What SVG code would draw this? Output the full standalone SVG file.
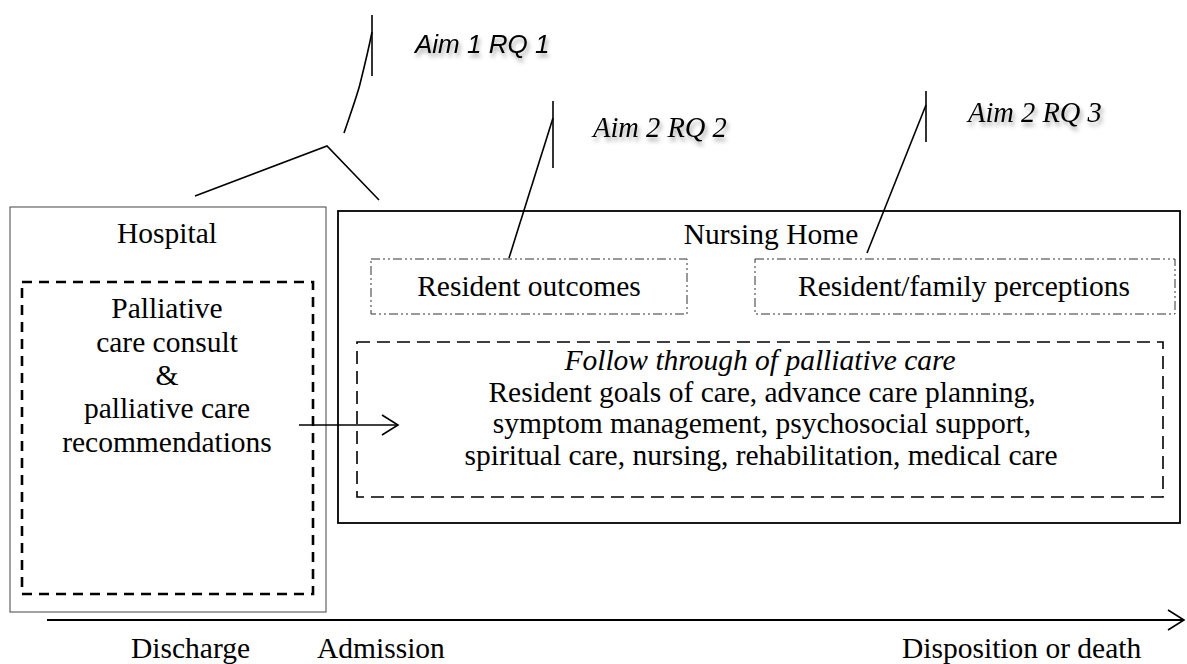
<svg xmlns="http://www.w3.org/2000/svg" width="1187" height="664" viewBox="0 0 1187 664">
  <defs>
    <filter id="softShadow" x="-20%" y="-40%" width="140%" height="200%">
      <feDropShadow dx="2" dy="4" stdDeviation="2.2" flood-color="#000" flood-opacity="0.35"/>
    </filter>
    <marker id="openArrow" markerWidth="20" markerHeight="22" refX="17" refY="11" orient="auto" markerUnits="userSpaceOnUse">
      <path d="M1,1 L17,11 L1,21" fill="none" stroke="#000" stroke-width="1.6"/>
    </marker>
  </defs>
  <style>
    text { fill: #000; }
    .serif { font-family: 'Liberation Serif', 'Times New Roman', serif; }
    .body { font-size: 29.5px; text-anchor: middle; }
    .aimSans { font-family: 'Liberation Sans', Arial, sans-serif; font-style: italic; font-size: 26px; }
    .aimSerif { font-family: 'Liberation Serif', 'Times New Roman', serif; font-style: italic; font-size: 28.5px; }
    .lead { fill: none; stroke: #000; stroke-width: 1.6; }
    .thinBox { fill: none; stroke: #444; stroke-width: 1; }
    .heavyBox { fill: none; stroke: #000; stroke-width: 1.8; }
    .dashBold { fill: none; stroke: #000; stroke-width: 2.6; stroke-dasharray: 10 7; }
    .dashThin { fill: none; stroke: #000; stroke-width: 1.6; stroke-dasharray: 13 7; }
    .dashDot { fill: none; stroke: #333; stroke-width: 1; stroke-dasharray: 9 3 2 3 2 3; }
  </style>

  <rect width="1187" height="664" fill="#fff"/>

  <!-- Hospital -->
  <g id="hospital">
    <rect class="thinBox" x="10" y="207" width="316" height="405"/>
    <text class="serif body" x="167" y="243">Hospital</text>
  </g>

  <g id="consult">
    <rect class="dashBold" x="22" y="282" width="291" height="312"/>
    <text class="serif body" x="167" y="318">Palliative</text>
    <text class="serif body" x="167" y="352">care consult</text>
    <text class="serif body" x="167" y="385">&amp;</text>
    <text class="serif body" x="167" y="418">palliative care</text>
    <text class="serif body" x="167" y="452">recommendations</text>
  </g>

  <!-- Nursing Home -->
  <g id="nursing-home">
    <rect class="heavyBox" x="338" y="211" width="842" height="312"/>
    <text class="serif body" x="771" y="244">Nursing Home</text>
  </g>

  <g id="resident-outcomes">
    <rect class="dashDot" x="371" y="259" width="316" height="55"/>
    <text class="serif body" x="529" y="296">Resident outcomes</text>
  </g>

  <g id="family-perceptions">
    <rect class="dashDot" x="755" y="259" width="420" height="55"/>
    <text class="serif body" x="964" y="296">Resident/family perceptions</text>
  </g>

  <g id="follow-through">
    <rect class="dashThin" x="357" y="342" width="806" height="155"/>
    <text class="serif body" x="760" y="370" font-style="italic">Follow through of palliative care</text>
    <text class="serif body" x="762" y="402">Resident goals of care, advance care planning,</text>
    <text class="serif body" x="762" y="433">symptom management, psychosocial support,</text>
    <text class="serif body" x="761" y="465">spiritual care, nursing, rehabilitation, medical care</text>
  </g>

  <!-- Aim labels -->
  <g id="aim1">
    <text class="aimSans" x="415" y="53" filter="url(#softShadow)">Aim 1 RQ 1</text>
  </g>
  <g id="aim2-rq2">
    <text class="aimSerif" x="593" y="137" filter="url(#softShadow)">Aim 2 RQ 2</text>
  </g>
  <g id="aim2-rq3">
    <text class="aimSerif" x="968" y="122" filter="url(#softShadow)">Aim 2 RQ 3</text>
  </g>

  <!-- Timeline -->
  <g id="timeline">
    <text class="serif" font-size="29.5" x="131" y="658">Discharge</text>
    <text class="serif" font-size="29.5" x="317" y="658">Admission</text>
    <text class="serif" font-size="29.5" x="902" y="658">Disposition or death</text>
  </g>

  <!-- Connectors -->
  <g id="connectors">
    <!-- Aim 1 callout: tick, leader and bracket over hospital/nursing home -->
    <line class="lead" x1="372" y1="15" x2="372" y2="76"/>
    <path class="lead" d="M372,32 C368,52 363,72 360,84 S349,118 344,133"/>
    <polyline class="lead" points="195,196 327,146 379,200"/>
    <!-- Aim 2 RQ 2 callout -->
    <line class="lead" x1="553" y1="101" x2="553" y2="168"/>
    <line class="lead" x1="553" y1="118" x2="509" y2="258"/>
    <!-- Aim 2 RQ 3 callout -->
    <line class="lead" x1="926" y1="91" x2="926" y2="142"/>
    <line class="lead" x1="926" y1="105" x2="867" y2="253"/>
    <!-- hospital to nursing home -->
    <line x1="299" y1="425" x2="398" y2="425" stroke="#000" stroke-width="1.6" marker-end="url(#openArrow)"/>
    <!-- time axis -->
    <line x1="47" y1="620" x2="1184" y2="620" stroke="#000" stroke-width="2" marker-end="url(#openArrow)"/>
  </g>
</svg>
